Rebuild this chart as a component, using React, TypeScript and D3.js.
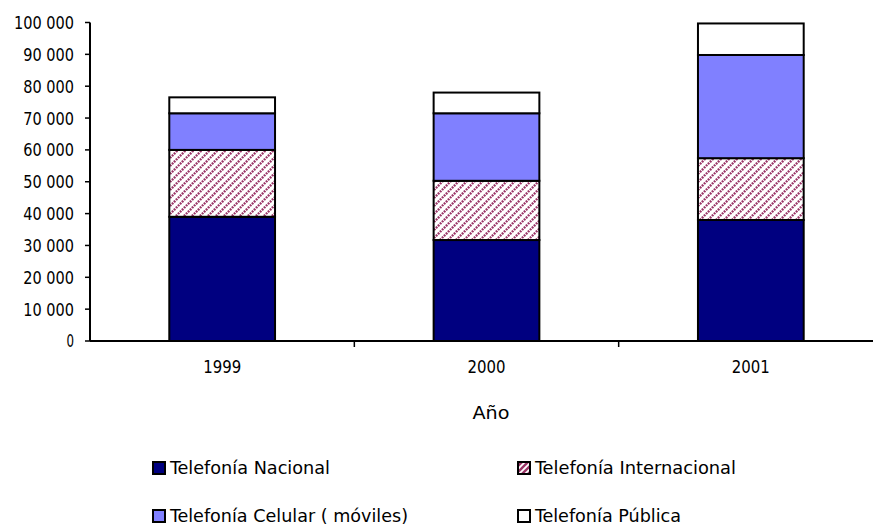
import React from "react";
import * as d3 from "d3";

const years = ["1999", "2000", "2001"];
const nacional = [39000, 31700, 38000];
const internacional = [21000, 18600, 19400];
const celular = [11500, 21200, 32400];
const publica = [5000, 6500, 9900];
const seriesNames = [
  "Telefonía Nacional",
  "Telefonía Internacional",
  "Telefonía Celular ( móviles)",
  "Telefonía Pública",
];
const yTicks = [0, 10000, 20000, 30000, 40000, 50000, 60000, 70000, 80000, 90000, 100000];

const W = 873;
const H = 531;
const FONT = "'DejaVu Sans Condensed', 'DejaVu Sans', sans-serif";

// approximate rendered width of the narrow original font
const labelWidth = (s: string) => {
  let w = 0;
  for (const ch of s) w += ch === " " ? 6 : 9.3;
  return w - 1.8;
};

export default function App() {
  const left = 90;
  const right = 883;
  const top = 22.5;
  const bottom = 341;

  const x = d3.scaleBand<string>().domain(years).range([left, right]).paddingInner(0).paddingOuter(0);
  const y = d3.scaleLinear().domain([0, 100000]).range([bottom, top]);

  const rows = years.map((yr, i) => ({
    year: yr,
    nac: nacional[i],
    int: internacional[i],
    cel: celular[i],
    pub: publica[i],
  }));
  const keys = ["nac", "int", "cel", "pub"];
  const stacked = d3.stack<any>().keys(keys)(rows);
  const fills = ["#000080", "url(#hatch)", "#8080ff", "#ffffff"];
  const barW = x.bandwidth() * 0.4;
  const fmt = (v: number) => d3.format(",")(v).replace(/,/g, " ");

  const legend = [
    { x: 153, y: 468, fill: fills[0], name: seriesNames[0], len: 160 },
    { x: 518, y: 468, fill: fills[1], name: seriesNames[1], len: 201 },
    { x: 153, y: 516, fill: fills[2], name: seriesNames[2], len: 238 },
    { x: 518, y: 516, fill: fills[3], name: seriesNames[3], len: 146 },
  ];

  return (
    <svg
      width={W}
      height={H}
      style={{ position: "absolute", left: 0, top: 0, background: "#fff" }}
      fontFamily={FONT}
    >
      <defs>
        <pattern id="hatch" patternUnits="userSpaceOnUse" width="8" height="8">
          <rect width="8" height="8" fill="#fff" />
          <g stroke="#993366" strokeWidth="2.4" strokeDasharray="1.8 1">
            <line x1="0" y1="8" x2="8" y2="0" />
            <line x1="-2" y1="2" x2="2" y2="-2" />
            <line x1="6" y1="10" x2="10" y2="6" />
          </g>
        </pattern>
        <pattern id="hatchSmall" patternUnits="userSpaceOnUse" width="6" height="6">
          <rect width="6" height="6" fill="#fff" />
          <g stroke="#993366" strokeWidth="2.4">
            <line x1="0" y1="6" x2="6" y2="0" />
            <line x1="-2" y1="2" x2="2" y2="-2" />
            <line x1="4" y1="8" x2="8" y2="4" />
          </g>
        </pattern>
      </defs>
      <rect width={W} height={H} fill="#fff" />

      {stacked.map((s, si) =>
        s.map((d, i) => (
          <rect
            key={`${si}-${i}`}
            x={(x(years[i]) as number) + (x.bandwidth() - barW) / 2}
            y={y(d[1])}
            width={barW}
            height={y(d[0]) - y(d[1])}
            fill={fills[si]}
            stroke="#000"
            strokeWidth={2}
          />
        ))
      )}

      {/* y axis */}
      <line x1={left} x2={left} y1={top} y2={bottom} stroke="#000" strokeWidth={2} />
      {yTicks.map((t) => (
        <g key={t}>
          <line x1={left - 5} x2={left} y1={y(t)} y2={y(t)} stroke="#000" strokeWidth={1.5} />
          <text
            x={74}
            y={y(t)}
            dy="0.36em"
            textAnchor="end"
            fontSize={18}
            fill="#000"
            textLength={labelWidth(fmt(t))}
            lengthAdjust="spacingAndGlyphs"
          >
            {fmt(t)}
          </text>
        </g>
      ))}

      {/* x axis */}
      <line x1={left} x2={right} y1={bottom} y2={bottom} stroke="#000" strokeWidth={2} />
      {years.map((yr, i) => (
        <g key={yr}>
          {i > 0 && (
            <line x1={x(yr) as number} x2={x(yr) as number} y1={bottom} y2={bottom + 6} stroke="#000" strokeWidth={1.5} />
          )}
          <text
            x={(x(yr) as number) + x.bandwidth() / 2}
            y={367}
            dy="0.36em"
            textAnchor="middle"
            fontSize={17}
            fill="#000"
            textLength={38}
            lengthAdjust="spacingAndGlyphs"
          >
            {yr}
          </text>
        </g>
      ))}
      <text
        x={491}
        y={413}
        dy="0.36em"
        textAnchor="middle"
        fontSize={18}
        fill="#000"
        textLength={37}
        lengthAdjust="spacingAndGlyphs"
      >
        Año
      </text>

      {legend.map((l, i) => (
        <g key={i}>
          <rect
            x={l.x}
            y={l.y - 6}
            width={12}
            height={12}
            fill={i === 1 ? "url(#hatchSmall)" : l.fill}
            stroke="#000"
            strokeWidth={2}
          />
          <text
            x={l.x + 17}
            y={l.y}
            dy="0.36em"
            fontSize={17}
            fill="#000"
            textLength={l.len}
            lengthAdjust="spacingAndGlyphs"
          >
            {l.name}
          </text>
        </g>
      ))}
    </svg>
  );
}
